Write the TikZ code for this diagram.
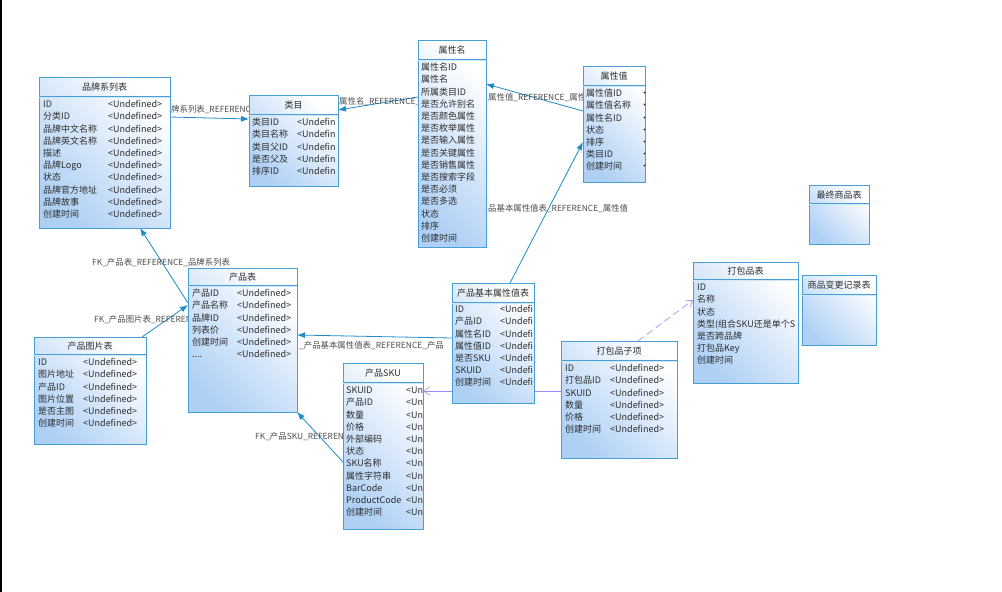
\documentclass[tikz,border=0pt]{standalone}
\usepackage{fontspec}
\setmainfont{Noto Sans CJK SC}
\usetikzlibrary{arrows.meta}
\definecolor{TblLine}{RGB}{70,160,215}
\definecolor{TblFill}{RGB}{175,208,245}
\definecolor{LinkBlue}{RGB}{30,140,200}
\definecolor{LinkPurple}{RGB}{150,140,245}
\definecolor{TxtGray}{RGB}{45,45,45}
\pgfdeclarelayer{bg}
\pgfsetlayers{bg,main}

\begin{document}
\begin{tikzpicture}[x=1pt, y=-1pt, every node/.style={font=\fontsize{9}{12.2}\selectfont, text=TxtGray},
  tbl/.style={draw=TblLine, line width=0.9pt, top color=white, bottom color=TblFill, shading angle=-45, anchor=north west, inner sep=0pt, outer sep=0pt},
  hdr/.style={draw=TblLine, line width=0.6pt, double=TblLine!25, double distance=0.8pt},
  ttl/.style={inner sep=0pt},
  flds/.style={anchor=north west, inner sep=0pt},
  lbl/.style={anchor=west, inner sep=0pt, text=TxtGray!85, font=\fontsize{8.4}{10}\selectfont},
  fk/.style={draw=LinkBlue, line width=0.8pt, -{Latex[length=8pt,width=6pt]}},
  pk/.style={draw=LinkPurple, line width=0.6pt, -{Straight Barb[length=6pt,width=8pt]}}]
\useasboundingbox (0,0) rectangle (1002,592);

% tables
\node[tbl, minimum width=131pt, minimum height=151pt] (brand) at (39,77) {};
\draw[hdr] ([yshift=-20pt]brand.north west) -- ([yshift=-20pt]brand.north east);
\node[ttl] (brand-t) at ([yshift=-10pt]brand.north) {品牌系列表};
\node[flds] (brand-f) at ([xshift=4pt,yshift=-22pt]brand.north west) {\begin{tabular}{@{}p{65pt}@{}l@{}}
ID & <Undefined>\\ 分类ID & <Undefined>\\ 品牌中文名称 & <Undefined>\\ 品牌英文名称 & <Undefined>\\ 描述 & <Undefined>\\
品牌Logo & <Undefined>\\ 状态 & <Undefined>\\ 品牌官方地址 & <Undefined>\\ 品牌故事 & <Undefined>\\ 创建时间 & <Undefined>
\end{tabular}};

\node[tbl, minimum width=89pt, minimum height=91pt] (cat) at (249,95) {};
\draw[hdr] ([yshift=-20pt]cat.north west) -- ([yshift=-20pt]cat.north east);
\node[ttl] (cat-t) at ([yshift=-10pt]cat.north) {类目};
\node[flds] (cat-f) at ([xshift=3pt,yshift=-22pt]cat.north west) {\begin{tabular}{@{}p{45pt}@{}l@{}}
类目ID & <Undefin\\ 类目名称 & <Undefin\\ 类目父ID & <Undefin\\ 是否父及 & <Undefin\\ 排序ID & <Undefin
\end{tabular}};

\node[tbl, minimum width=68pt, minimum height=207pt] (attr) at (418,40) {};
\draw[hdr] ([yshift=-20pt]attr.north west) -- ([yshift=-20pt]attr.north east);
\node[ttl] (attr-t) at ([yshift=-10pt]attr.north) {属性名};
\node[flds] (attr-f) at ([xshift=3pt,yshift=-22pt]attr.north west) {\begin{tabular}{@{}l@{}}
属性名ID\\ 属性名\\ 所属类目ID\\ 是否允许别名\\ 是否颜色属性\\ 是否枚举属性\\ 是否输入属性\\ 是否关键属性\\
是否销售属性\\ 是否搜索字段\\ 是否必须\\ 是否多选\\ 状态\\ 排序\\ 创建时间
\end{tabular}};

\node[tbl, minimum width=62pt, minimum height=116pt] (aval) at (583,66) {};
\draw[hdr] ([yshift=-20pt]aval.north west) -- ([yshift=-20pt]aval.north east);
\node[ttl] (aval-t) at ([yshift=-10pt]aval.north) {属性值};
\node[flds] (aval-f) at ([xshift=3pt,yshift=-22pt]aval.north west) {\begin{tabular}{@{}p{54pt}@{}l@{}}
属性值ID & ·\\ 属性值名称 & ·\\ 属性名ID & ·\\ 状态 & ·\\ 排序 & ·\\ 类目ID & ·\\ 创建时间 & ·
\end{tabular}};

\node[tbl, minimum width=60pt, minimum height=59pt] (final) at (809,185) {};
\draw[hdr] ([yshift=-19pt]final.north west) -- ([yshift=-19pt]final.north east);
\node[ttl] (final-t) at ([yshift=-10pt]final.north) {最终商品表};

\node[tbl, minimum width=109pt, minimum height=144pt] (prod) at (188,268) {};
\draw[hdr] ([yshift=-18pt]prod.north west) -- ([yshift=-18pt]prod.north east);
\node[ttl] (prod-t) at ([yshift=-9pt]prod.north) {产品表};
\node[flds] (prod-f) at ([xshift=4pt,yshift=-20pt]prod.north west) {\begin{tabular}{@{}p{45pt}@{}l@{}}
产品ID & <Undefined>\\ 产品名称 & <Undefined>\\ 品牌ID & <Undefined>\\ 列表价 & <Undefined>\\ 创建时间 & <Undefined>\\ .... & <Undefined>
\end{tabular}};

\node[tbl, minimum width=112pt, minimum height=107pt] (img) at (34,337) {};
\draw[hdr] ([yshift=-18pt]img.north west) -- ([yshift=-18pt]img.north east);
\node[ttl] (img-t) at ([yshift=-9pt]img.north) {产品图片表};
\node[flds] (img-f) at ([xshift=4pt,yshift=-20pt]img.north west) {\begin{tabular}{@{}p{45pt}@{}l@{}}
ID & <Undefined>\\ 图片地址 & <Undefined>\\ 产品ID & <Undefined>\\ 图片位置 & <Undefined>\\ 是否主图 & <Undefined>\\ 创建时间 & <Undefined>
\end{tabular}};

\node[tbl, minimum width=82pt, minimum height=120pt] (pav) at (452,283) {};
\draw[hdr] ([yshift=-20pt]pav.north west) -- ([yshift=-20pt]pav.north east);
\node[ttl] (pav-t) at ([yshift=-10pt]pav.north) {产品基本属性值表};
\node[flds] (pav-f) at ([xshift=3pt,yshift=-21pt]pav.north west) {\begin{tabular}{@{}p{45pt}@{}l@{}}
ID & <Undefi\\ 产品ID & <Undefi\\ 属性名ID & <Undefi\\ 属性值ID & <Undefi\\ 是否SKU & <Undefi\\ SKUID & <Undefi\\ 创建时间 & <Undefi
\end{tabular}};

\node[tbl, minimum width=80pt, minimum height=166pt] (sku) at (343,363) {};
\draw[hdr] ([yshift=-20pt]sku.north west) -- ([yshift=-20pt]sku.north east);
\node[ttl] (sku-t) at ([yshift=-10pt]sku.north) {产品SKU};
\node[flds] (sku-f) at ([xshift=3pt,yshift=-22pt]sku.north west) {\begin{tabular}{@{}p{60pt}@{}l@{}}
SKUID & <Un\\ 产品ID & <Un\\ 数量 & <Un\\ 价格 & <Un\\ 外部编码 & <Un\\ 状态 & <Un\\ SKU名称 & <Un\\
属性字符串 & <Un\\ BarCode & <Un\\ ProductCode & <Un\\ 创建时间 & <Un
\end{tabular}};

\node[tbl, minimum width=116pt, minimum height=117pt] (pitem) at (561,341) {};
\draw[hdr] ([yshift=-20pt]pitem.north west) -- ([yshift=-20pt]pitem.north east);
\node[ttl] (pitem-t) at ([yshift=-10pt]pitem.north) {打包品子项};
\node[flds] (pitem-f) at ([xshift=4pt,yshift=-22pt]pitem.north west) {\begin{tabular}{@{}p{45pt}@{}l@{}}
ID & <Undefined>\\ 打包品ID & <Undefined>\\ SKUID & <Undefined>\\ 数量 & <Undefined>\\ 价格 & <Undefined>\\ 创建时间 & <Undefined>
\end{tabular}};

\node[tbl, minimum width=105pt, minimum height=121pt] (pack) at (693,262) {};
\draw[hdr] ([yshift=-18pt]pack.north west) -- ([yshift=-18pt]pack.north east);
\node[ttl] (pack-t) at ([yshift=-9pt]pack.north) {打包品表};
\node[flds] (pack-f) at ([xshift=4pt,yshift=-20pt]pack.north west) {\begin{tabular}{@{}l@{}}
ID\\ 名称\\ 状态\\ 类型(组合SKU还是单个S\\ 是否跨品牌\\ 打包品Key\\ 创建时间
\end{tabular}};

\node[tbl, minimum width=74pt, minimum height=70pt] (chg) at (802,275) {};
\draw[hdr] ([yshift=-20pt]chg.north west) -- ([yshift=-20pt]chg.north east);
\node[ttl] (chg-t) at ([yshift=-10pt]chg.north) {商品变更记录表};

% references, under the tables
\begin{pgfonlayer}{bg}
\fill[white] (0,0) rectangle (1002,592);
\draw[line width=2pt] (1,0) -- (1,592);
\draw[fk] ([yshift=-40pt]brand.north east) -- ([yshift=-24pt]cat.north west);
\node[lbl] (brand-cat-l) at (171,110) {牌系列表\_REFERENC};
\draw[fk] ([yshift=-57pt]attr.north west) -- ([yshift=-15pt]cat.north east);
\node[lbl] (attr-cat-l) at (339,102) {属性名\_REFERENCE\_};
\draw[fk] ([yshift=-45pt]aval.north west) -- ([yshift=-44pt]attr.north east);
\node[lbl] (aval-attr-l) at (488,98) {属性值\_REFERENCE\_属性};
\draw[fk] ([xshift=58pt]pav.north west) -- ([yshift=-76pt]aval.north west);
\node[lbl] (pav-aval-l) at (488,209) {品基本属性值表\_REFERENCE\_属性值};
\draw[fk] ([yshift=-35pt]prod.north west) -- ([xshift=101pt]brand.south west);
\node[lbl] (prod-brand-l) at (92,263) {FK\_产品表\_REFERENCE\_品牌系列表};
\draw[fk] ([xshift=108pt]img.north west) -- ([yshift=-37pt]prod.north west);
\node[lbl] (img-prod-l) at (94,320) {FK\_产品图片表\_REFEREN};
\draw[fk] ([yshift=-55pt]pav.north west) -- ([yshift=-67pt]prod.north east);
\node[lbl] (pav-prod-l) at (299,346) {\_产品基本属性值表\_REFERENCE\_产品};
\draw[fk] ([yshift=-99pt]sku.north west) -- (prod.south east);
\node[lbl] (sku-prod-l) at (255,437) {FK\_产品SKU\_REFERENC};
\draw[pk] ([yshift=-50pt]pitem.north west) -- ([yshift=-28pt]sku.north east);
\draw[pk, dash pattern=on 7pt off 4pt] ([xshift=77pt]pitem.north west) -- ([yshift=-38pt]pack.north west);
\end{pgfonlayer}
\end{tikzpicture}
\end{document}
